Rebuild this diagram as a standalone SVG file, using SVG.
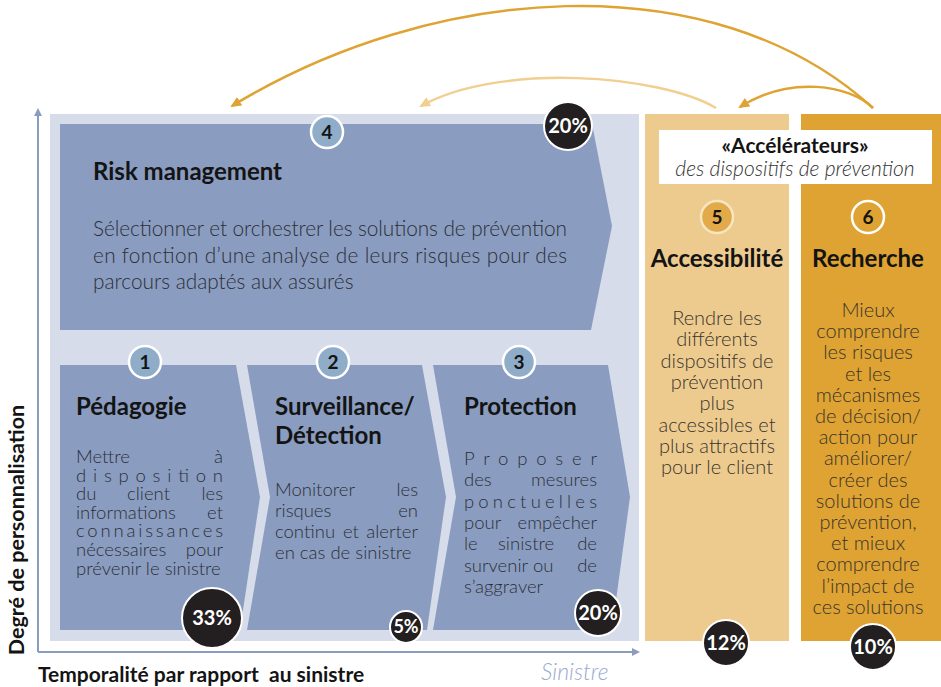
<svg xmlns="http://www.w3.org/2000/svg" width="941" height="687" viewBox="0 0 941 687">
  <defs>
    <style>
      .t { font-family: Lato, "Open Sans", "Liberation Sans", sans-serif; }
      .title { font-family: Lato, "Liberation Sans", sans-serif; font-weight: 700; font-size: 24px; fill: #141414; }
      .desc { font-family: Lato, "Liberation Sans", sans-serif; font-weight: 300; font-size: 18.5px; fill: #2c2f38; }
      .lead { font-size: 20.8px; }
      .descw { font-family: Lato, "Liberation Sans", sans-serif; font-weight: 300; font-size: 20px; fill: #3a342c; text-anchor: middle; }
      .chev { fill: #8a9dc0; }
      .num circle { fill: #8fadc9; stroke: #ffffff; stroke-width: 2.5; }
      .num text { font-family: Lato, "Liberation Sans", sans-serif; font-weight: 700; font-size: 19px; fill: #141414; text-anchor: middle; }
      .pct circle { fill: #231f20; stroke: #ffffff; stroke-width: 2; }
      .pct text { font-family: Lato, "Liberation Sans", sans-serif; font-weight: 700; font-size: 20px; fill: #ffffff; text-anchor: middle; }
      .pct text.small { font-size: 18px; }
      .axis { stroke: #8a9dc0; stroke-width: 2; fill: none; }
      .arc { fill: none; stroke-width: 2.5; }
      .end { text-anchor: end; }
    </style>
    <marker id="ah-dark" markerWidth="11" markerHeight="10" refX="9" refY="5" orient="auto" markerUnits="userSpaceOnUse">
      <path d="M0,0 L11,5 L0,10 z" fill="#dea332"/>
    </marker>
    <marker id="ah-light" markerWidth="11" markerHeight="10" refX="9" refY="5" orient="auto" markerUnits="userSpaceOnUse">
      <path d="M0,0 L11,5 L0,10 z" fill="#f0cf90"/>
    </marker>
    <marker id="ah-axis" markerWidth="8" markerHeight="8" refX="6" refY="4" orient="auto" markerUnits="userSpaceOnUse">
      <path d="M0,0 L8,4 L0,8 z" fill="#8a9dc0"/>
    </marker>
  </defs>

  <rect width="941" height="687" fill="#ffffff"/>

  <!-- prevention area background -->
  <rect id="prevention-area" x="50" y="114" width="589" height="527" fill="#d6dcea"/>

  <!-- axes -->
  <g id="axes">
    <path class="axis" d="M38,652 V110" marker-end="url(#ah-axis)"/>
    <path class="axis" d="M38,652 H638" marker-end="url(#ah-axis)"/>
    <text class="t" transform="translate(24,530) rotate(-90)" text-anchor="middle" font-weight="700" font-size="21.5" fill="#141414">Degré de personnalisation</text>
    <text class="t" x="38" y="682" font-weight="700" font-size="21" fill="#141414" style="white-space:pre">Temporalité par rapport  au sinistre</text>
    <text class="t" x="541" y="680" font-weight="300" font-style="italic" font-size="23" fill="#9aaad0">Sinistre</text>
  </g>

  <!-- 4: risk management -->
  <g id="node-risk-management">
    <polygon class="chev" points="60,124 592,124 612,226 591,330 60,330"/>
    <text class="title" x="93" y="180">Risk management</text>
    <text class="desc lead" x="93" y="236" textLength="474" lengthAdjust="spacing">Sélectionner et orchestrer les solutions de prévention</text>
    <text class="desc lead" x="93" y="262.5" textLength="474" lengthAdjust="spacing">en fonction d’une analyse de leurs risques pour des</text>
    <text class="desc lead" x="93" y="289">parcours adaptés aux assurés</text>
    <g class="num"><circle cx="327" cy="132" r="16"/><text x="327" y="139">4</text></g>
    <g class="pct"><circle cx="568" cy="126" r="24"/><text x="568" y="133">20%</text></g>
  </g>

  <!-- 1: pédagogie -->
  <g id="node-pedagogie">
    <polygon class="chev" points="60,365 236,365 260,497 240,630 60,630"/>
    <text class="title" x="76" y="415">Pédagogie</text>
    <g class="desc">
      <text x="76" y="463">Mettre</text><text class="end" x="223" y="463">à</text>
      <text x="76" y="481.6" textLength="147" lengthAdjust="spacing">disposition</text>
      <text x="76" y="500.2">du</text><text x="127" y="500.2">client</text><text class="end" x="223" y="500.2">les</text>
      <text x="76" y="518.8">informations</text><text class="end" x="223" y="518.8">et</text>
      <text x="76" y="537.4" textLength="147" lengthAdjust="spacing">connaissances</text>
      <text x="76" y="556">nécessaires</text><text class="end" x="223" y="556">pour</text>
      <text x="76" y="574.6">prévenir le sinistre</text>
    </g>
    <g class="num"><circle cx="145" cy="362" r="16"/><text x="145" y="369">1</text></g>
    <g class="pct"><circle cx="212" cy="618" r="30"/><text x="212" y="625">33%</text></g>
  </g>

  <!-- 2: surveillance / détection -->
  <g id="node-surveillance">
    <polygon class="chev" points="247,365 422,365 446,497 427,630 247,630 270,497"/>
    <text class="title" x="275" y="415">Surveillance/</text>
    <text class="title" x="275" y="444">Détection</text>
    <g class="desc">
      <text x="275" y="496">Monitorer</text><text class="end" x="418" y="496">les</text>
      <text x="275" y="517">risques</text><text class="end" x="418" y="517">en</text>
      <text x="275" y="538">continu</text><text x="343" y="538">et</text><text class="end" x="418" y="538">alerter</text>
      <text x="275" y="559">en cas de sinistre</text>
    </g>
    <g class="num"><circle cx="333" cy="362" r="16"/><text x="333" y="369">2</text></g>
    <g class="pct"><circle cx="406" cy="627" r="16"/><text class="small" x="406" y="633">5%</text></g>
  </g>

  <!-- 3: protection -->
  <g id="node-protection">
    <polygon class="chev" points="433,365 608,365 630,497 612,630 433,630 456,497"/>
    <text class="title" x="464" y="415">Protection</text>
    <g class="desc">
      <text x="464" y="465" textLength="133" lengthAdjust="spacing">Proposer</text>
      <text x="464" y="486.3">des</text><text class="end" x="597" y="486.3">mesures</text>
      <text x="464" y="507.7" textLength="133" lengthAdjust="spacing">ponctuelles</text>
      <text x="464" y="529">pour</text><text class="end" x="597" y="529">empêcher</text>
      <text x="464" y="550.3">le</text><text x="498" y="550.3">sinistre</text><text class="end" x="597" y="550.3">de</text>
      <text x="464" y="571.7">survenir</text><text x="533" y="571.7">ou</text><text class="end" x="597" y="571.7">de</text>
      <text x="464" y="593">s’aggraver</text>
    </g>
    <g class="num"><circle cx="519" cy="362" r="16"/><text x="519" y="369">3</text></g>
    <g class="pct"><circle cx="598" cy="613" r="23"/><text x="598" y="620">20%</text></g>
  </g>

  <!-- 5: accessibilité -->
  <g id="node-accessibilite">
    <rect x="645" y="114" width="144" height="527" fill="#edcb8f"/>
    <text class="title" x="717" y="267" text-anchor="middle">Accessibilité</text>
    <g class="descw">
      <text x="717" y="325">Rendre les</text>
      <text x="717" y="346.3">différents</text>
      <text x="717" y="367.6">dispositifs de</text>
      <text x="717" y="388.9">prévention</text>
      <text x="717" y="410.2">plus</text>
      <text x="717" y="431.5">accessibles et</text>
      <text x="717" y="452.8">plus attractifs</text>
      <text x="717" y="474.1">pour le client</text>
    </g>
    <circle cx="717" cy="217" r="16" fill="#e2aa48" stroke="#f7e6c2" stroke-width="2.5"/>
    <text class="t" x="717" y="224" text-anchor="middle" font-weight="700" font-size="19" fill="#141414">5</text>
    <g class="pct"><circle cx="726" cy="643" r="23"/><text x="726" y="650">12%</text></g>
  </g>

  <!-- 6: recherche -->
  <g id="node-recherche">
    <rect x="801" y="114" width="140" height="527" fill="#dea332"/>
    <text class="title" x="868" y="267" text-anchor="middle">Recherche</text>
    <g class="descw">
      <text x="868" y="317">Mieux</text>
      <text x="868" y="338.2">comprendre</text>
      <text x="868" y="359.4">les risques</text>
      <text x="868" y="380.6">et les</text>
      <text x="868" y="401.8">mécanismes</text>
      <text x="868" y="423">de décision/</text>
      <text x="868" y="444.2">action pour</text>
      <text x="868" y="465.4">améliorer/</text>
      <text x="868" y="486.6">créer des</text>
      <text x="868" y="507.8">solutions de</text>
      <text x="868" y="529">prévention,</text>
      <text x="868" y="550.2">et mieux</text>
      <text x="868" y="571.4">comprendre</text>
      <text x="868" y="592.6">l’impact de</text>
      <text x="868" y="613.8">ces solutions</text>
    </g>
    <circle cx="868" cy="217" r="16" fill="#dea332" stroke="#ffffff" stroke-width="2.5"/>
    <text class="t" x="868" y="224" text-anchor="middle" font-weight="700" font-size="19" fill="#141414">6</text>
    <g class="pct"><circle cx="873" cy="647" r="23"/><text x="873" y="654">10%</text></g>
  </g>

  <!-- accelerators caption -->
  <g id="accelerateurs-label">
    <rect x="659" y="130" width="273" height="54" fill="#ffffff"/>
    <text class="t" x="795" y="153" text-anchor="middle" font-weight="700" font-size="21" fill="#141414">«Accélérateurs»</text>
    <text class="t" x="795" y="176" text-anchor="middle" font-weight="300" font-style="italic" font-size="21" fill="#333333">des dispositifs de prévention</text>
  </g>

  <!-- connectors -->
  <g id="connectors">
    <path class="arc" stroke="#dea332" d="M873,108 C710,-40 430,-15 232,106" marker-end="url(#ah-dark)"/>
    <path class="arc" stroke="#f0cf90" d="M716,108 C660,75 500,62 421,106" marker-end="url(#ah-light)"/>
    <path class="arc" stroke="#dea332" d="M873,108 C850,85 790,75 740,107" marker-end="url(#ah-dark)"/>
  </g>
</svg>
